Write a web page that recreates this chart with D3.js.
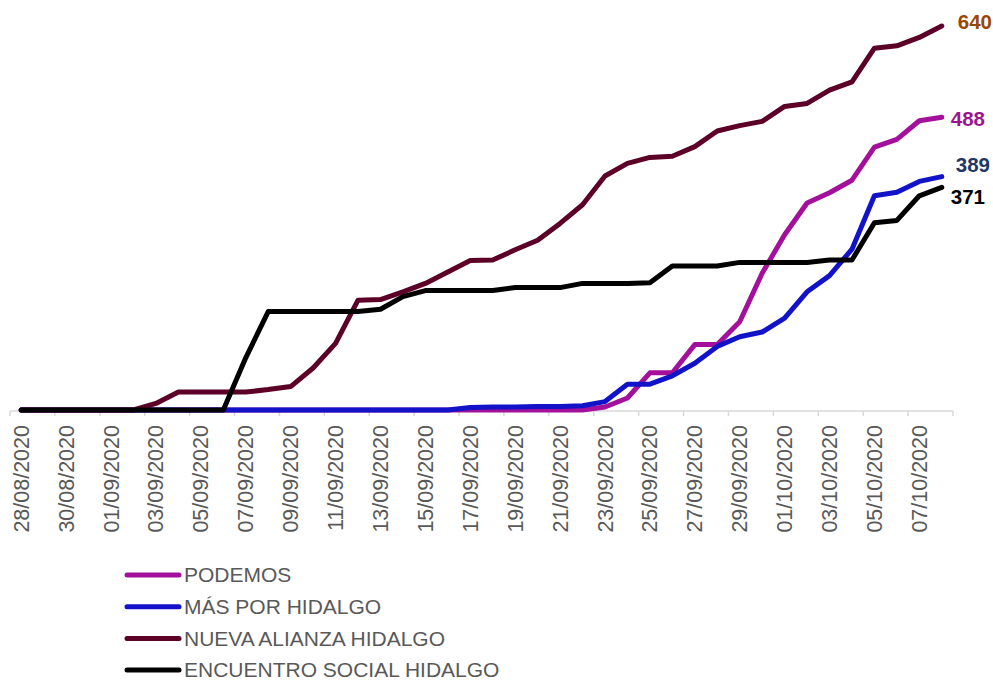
<!DOCTYPE html>
<html>
<head>
<meta charset="utf-8">
<script src="https://cdn.jsdelivr.net/npm/d3@7"></script>
<style>
  html, body { margin: 0; padding: 0; background: #fff; }
  svg { display: block; }
</style>
</head>
<body>
<svg id="chart" width="993" height="683"></svg>
<script>
const dates = ["28/08/2020","29/08/2020","30/08/2020","31/08/2020","01/09/2020","02/09/2020","03/09/2020","04/09/2020","05/09/2020","06/09/2020","07/09/2020","08/09/2020","09/09/2020","10/09/2020","11/09/2020","12/09/2020","13/09/2020","14/09/2020","15/09/2020","16/09/2020","17/09/2020","18/09/2020","19/09/2020","20/09/2020","21/09/2020","22/09/2020","23/09/2020","24/09/2020","25/09/2020","26/09/2020","27/09/2020","28/09/2020","29/09/2020","30/09/2020","01/10/2020","02/10/2020","03/10/2020","04/10/2020","05/10/2020","06/10/2020","07/10/2020","08/10/2020"];

const seriesNames = ["PODEMOS","MÁS POR HIDALGO","NUEVA ALIANZA HIDALGO","ENCUENTRO SOCIAL HIDALGO"];

const podemos = [0,0,0,0,0,0,0,0,0,0,0,0,0,0,0,0,0,0,0,0,0,0,0,0,0,0,5,20,62,62,109,109,147,228,292,345,362,383,438,451,482,488];
const masPorHidalgo = [0,0,0,0,0,0,0,0,0,0,0,0,0,0,0,0,0,0,0,0,4,5,5,6,6,7,14,43,43,57,78,106,122,130,153,197,224,268,357,363,381,389];
const nuevaAlianza = [0,0,0,0,0,0,11,30,30,30,30,34,39,70,111,183,184,197,211,230,249,250,267,283,311,342,390,411,421,423,439,465,474,481,506,511,533,547,603,607,621,640];
const encuentroSocial = [0,0,0,0,0,0,0,0,0,0,87,164,164,164,164,164,168,189,199,199,199,199,204,204,204,211,211,211,212,240,240,240,246,246,246,246,250,250,312,316,357,371];

const lineColors = ["#A3109C","#1212C8","#5C0028","#000000"];
const labelColors = ["#9B1590","#1F3864","#974806","#000000"];

const allSeries = [podemos, masPorHidalgo, nuevaAlianza, encuentroSocial];

const svg = d3.select("#chart");

const x = d3.scaleBand().domain(dates).range([10, 953]).padding(0);
const y = d3.scaleLinear().domain([0, 640]).range([410, 26]);
const xc = d => x(d) + x.bandwidth() / 2;

// axis line
const axisY = 411;
svg.append("line")
  .attr("x1", x.range()[0]).attr("x2", x.range()[1])
  .attr("y1", axisY).attr("y2", axisY)
  .attr("stroke", "#d9d9d9").attr("stroke-width", 1.5);

// tick marks at band boundaries every 2 categories
const tickIdx = d3.range(0, dates.length + 1, 2);
svg.append("g").selectAll("line").data(tickIdx).join("line")
  .attr("x1", i => i < dates.length ? x(dates[i]) : x.range()[1])
  .attr("x2", i => i < dates.length ? x(dates[i]) : x.range()[1])
  .attr("y1", axisY).attr("y2", axisY + 5)
  .attr("stroke", "#d9d9d9").attr("stroke-width", 1.5);

// tick labels
const labelDates = dates.filter((d, i) => i % 2 === 0);
svg.append("g").selectAll("text").data(labelDates).join("text")
  .attr("transform", d => `translate(${xc(d)},425) rotate(-90)`)
  .attr("text-anchor", "end")
  .attr("dy", "0.35em")
  .attr("font-family", "Liberation Sans, Arial, sans-serif")
  .attr("font-size", 21.5)
  .attr("fill", "#595959")
  .text(d => d);

// lines
const line = d3.line().x((v, i) => xc(dates[i])).y(v => y(v));
allSeries.forEach((s, k) => {
  svg.append("path")
    .datum(s)
    .attr("d", line)
    .attr("fill", "none")
    .attr("stroke", lineColors[k])
    .attr("stroke-width", 5)
    .attr("stroke-linejoin", "round")
    .attr("stroke-linecap", "round");
});

// end value labels
const labelOffsets = [[9, 2], [14, -12], [16, -4], [9, 9]];
allSeries.forEach((s, k) => {
  const last = s.length - 1;
  svg.append("text")
    .attr("x", xc(dates[last]) + labelOffsets[k][0])
    .attr("y", y(s[last]) + labelOffsets[k][1])
    .attr("dy", "0.35em")
    .attr("font-family", "Liberation Sans, Arial, sans-serif")
    .attr("font-size", 20.5)
    .attr("font-weight", "bold")
    .attr("fill", labelColors[k])
    .text(s[last]);
});

// legend
const legendY0 = 575, legendStep = 31.7;
const lg = svg.append("g");
seriesNames.forEach((name, k) => {
  const yy = legendY0 + k * legendStep;
  lg.append("line")
    .attr("x1", 127).attr("x2", 179)
    .attr("y1", yy).attr("y2", yy)
    .attr("stroke", lineColors[k]).attr("stroke-width", 5)
    .attr("stroke-linecap", "round");
  lg.append("text")
    .attr("x", 184).attr("y", yy)
    .attr("dy", "0.35em")
    .attr("font-family", "Liberation Sans, Arial, sans-serif")
    .attr("font-size", 21)
    .attr("fill", "#595959")
    .text(name);
});
</script>
</body>
</html>
